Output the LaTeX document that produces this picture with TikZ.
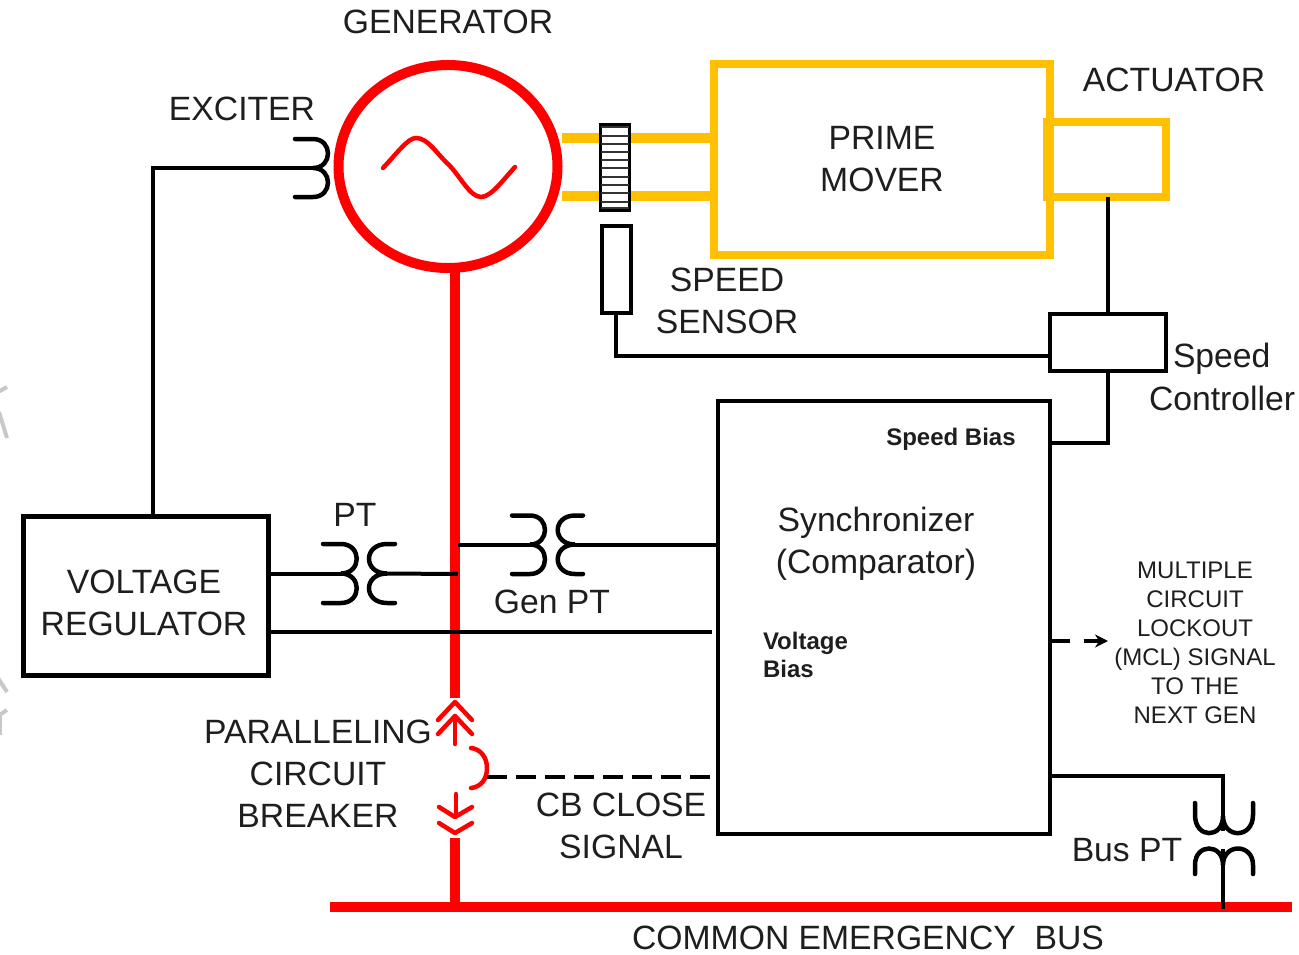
\documentclass[tikz,border=0pt]{standalone}
\usepackage{fontspec}
\setmainfont{Liberation Sans}
\usetikzlibrary{arrows.meta,shapes.geometric}
\definecolor{amber}{HTML}{FFC000}
\definecolor{ink}{HTML}{1E1E1E}
\definecolor{wmark}{HTML}{C8C8C8}
\newcommand{\coilpath}[6]{(#1,#4) -- (#2,#4) .. controls (#3,#4) and (#3,#5) .. (#2,#5) .. controls (#3,#5) and (#3,#6) .. (#2,#6) -- (#1,#6)}
\tikzset{
  every node/.style={inner sep=0pt,outer sep=0pt},
  lbl/.style={text=ink,align=center,font=\fontsize{33.7}{42}\selectfont},
  smalllbl/.style={text=ink,align=center,font=\fontsize{24}{29}\selectfont},
  boldlbl/.style={text=ink,align=left,font=\bfseries\fontsize{24}{28}\selectfont},
  blackbox/.style={draw=black,line width=4pt,rectangle},
  amberbox/.style={draw=amber,line width=8pt,rectangle},
  wire/.style={draw=black,line width=4pt},
  coil/.style={draw=black,line width=4.5pt,line cap=round},
  redbus/.style={draw=red,line width=9.5pt},
  redthin/.style={draw=red,line width=4.5pt,line cap=round,line join=round},
  shaft/.style={draw=amber,line width=9.5pt},
  wm/.style={draw=wmark,line width=4pt}
}
\begin{document}
\begin{tikzpicture}[x=1pt,y=-1pt]
\useasboundingbox (0,0) rectangle (1299,954);
% faint marks at the left edge
\draw[wm] (-2,392) -- (7,387);
\draw[wm] (-1,412) -- (7,438);
\draw[wm] (-2,678) -- (7,692);
\draw[wm] (-2,716) -- (7,710);
\draw[wm] (0,716) -- (0,735);

% named anchor points
\coordinate (shaftA) at (562,138);
\coordinate (shaftB) at (562,196);
\coordinate (redTop) at (455,268);
\coordinate (cbTop) at (455,698);
\coordinate (cbBot) at (455,838);
\coordinate (busTap) at (455,905);
\coordinate (busL) at (330,907);
\coordinate (busR) at (1292,907);
\coordinate (busPtTop) at (1223,776);
\coordinate (busPtA) at (1223,831);
\coordinate (busPtB) at (1223,849);
\coordinate (busPtEnd) at (1223,909);
\coordinate (excA) at (313,168);
\coordinate (excB) at (153,168);
\coordinate (ptL) at (341,573.5);
\coordinate (ptR) at (387,573.5);
\coordinate (ptBus) at (458,574);
\coordinate (gpBus) at (458,544.5);
\coordinate (gpL) at (530,544.5);
\coordinate (gpR) at (575,545);
\coordinate (cbArc) at (487,777);
\coordinate (mclEnd) at (1108,641);
\coordinate (ctrlIn) at (1050,356);

% shafts behind the toothed wheel
\path[shaft] (shaftA) -- (712,138);
\path[shaft] (shaftB) -- (712,196);

% boxes
\node[amberbox,minimum width=336pt,minimum height=191pt,lbl] (prime) at (882,159.5) {PRIME\\MOVER};
\node[amberbox,minimum width=119pt,minimum height=75pt] (act) at (1106.5,159.5) {};
\node[draw=black,line width=3pt,fill=white,minimum width=29pt,minimum height=86pt] (wheel) at (615,167.5) {};
\foreach \yy in {127,136,144,152,160,168,177,185,193,202,208}
  \draw[black!80,line width=1.3pt] (601,\yy) -- (629,\yy);
\node[blackbox,minimum width=29pt,minimum height=87pt] (sensor) at (616,269.5) {};
\node[blackbox,minimum width=116pt,minimum height=57pt] (ctrl) at (1108,342.5) {};
\node[blackbox,minimum width=332pt,minimum height=433pt] (sync) at (883.5,617.5) {};
\node[blackbox,line width=5pt,minimum width=245pt,minimum height=159pt] (vr) at (145.5,595.5) {};

% generator
\node[ellipse,draw=red,line width=10pt,minimum width=219pt,minimum height=203pt] (gen) at (448,166.5) {};
\draw[red,line width=4.5pt,line cap=round] (383,168) .. controls (398,152) and (408,138) .. (416,138)
  .. controls (428,138) and (436,153) .. (449,165) .. controls (460,176) and (470,197) .. (481,197)
  .. controls (491,197) and (503,180) .. (515,167);

% red main and bus
\path[redbus] (redTop) -- (cbTop);
\path[redbus] (cbBot) -- (busTap);
\path[redbus] (busL) -- (busR);

% paralleling breaker
\draw[redthin] (438,720) -- (455,702) -- (472,720);
\draw[redthin] (438,734) -- (455,716) -- (472,734);
\draw[redthin] (455,716) -- (455,744);
\draw[redthin] (471,748) .. controls (481,749) and (487,758) .. (487,768) .. controls (487,779) and (481,787) .. (471,788);
\draw[redthin] (456,794) -- (456,816);
\draw[redthin] (439,807) -- (455,817) -- (472,807);
\draw[redthin] (439,823) -- (455,833) -- (472,823);

% exciter
\draw[coil] \coilpath{295}{313}{333}{139}{168}{197};
\draw[wire] (excA) -- (excB) -- (excB |- vr.north);

% PT
\draw[coil] \coilpath{323}{341}{362}{544}{573.5}{603};
\draw[coil] \coilpath{395}{387}{363}{544}{573.5}{603};
\draw[wire] (vr.east |- ptL) -- (ptL);
\draw[wire] (ptR) -- (ptBus);

% Gen PT
\draw[coil] \coilpath{512}{530}{550}{515.5}{544.5}{574};
\draw[coil] \coilpath{583}{575}{552}{515.5}{544.5}{574};
\draw[wire] (gpBus) -- (gpL);
\draw[wire] (gpR) -- (sync.west |- gpR);

% regulator to synchronizer
\draw[wire] (vr.east |- 0,632) -- (712,632);

% speed loop
\draw[wire] (sensor.south) -- (sensor.south |- ctrlIn) -- (ctrlIn);
\draw[wire] (ctrl.north) -- (ctrl.north |- act.south);
\draw[wire] (ctrl.south) -- (1108,443) -- (sync.east |- 0,443);

% dashed signals
\draw[wire,dash pattern=on 20pt off 9pt] (cbArc) -- (sync.west |- cbArc);
\draw[wire,dash pattern=on 20pt off 14pt,-{Stealth[length=13pt,width=13pt]}] (sync.east |- mclEnd) -- (mclEnd);

% Bus PT
\draw[wire] (sync.east |- busPtTop) -- (busPtTop) -- (busPtA);
\draw[coil] (1195,803) -- (1195,815) .. controls (1195,839) and (1223,839) .. (1223,816) .. controls (1223,839) and (1253,839) .. (1253,815) -- (1253,803);
\draw[coil] (1195,874) -- (1195,865) .. controls (1195,843) and (1223,843) .. (1223,865) .. controls (1223,843) and (1253,843) .. (1253,865) -- (1253,874);
\draw[wire] (busPtB) -- (busPtEnd);

% labels
\node[lbl] (tGen) at (448,22) {GENERATOR};
\node[lbl] (tExc) at (242,109) {EXCITER};
\node[lbl] (tAct) at (1174,80) {ACTUATOR};
\node[lbl] (tVR) at (144,603) {VOLTAGE\\REGULATOR};
\node[lbl] (tSens) at (727,301) {SPEED\\SENSOR};
\node[lbl,anchor=west] (tSpd) at (1173,359) {Speed};
\node[lbl,anchor=west] (tCtl) at (1149,398) {Controller};
\node[boldlbl] (tSB) at (951,439) {Speed Bias};
\node[lbl] (tSyn) at (876,544) {Synchronizer\\(Comparator)};
\node[boldlbl,anchor=west] (tVB) at (763,655) {Voltage\\Bias};
\node[smalllbl] (tMCL) at (1195,642.5) {MULTIPLE\\CIRCUIT\\LOCKOUT\\(MCL) SIGNAL\\TO THE\\NEXT GEN};
\node[lbl] (tPT) at (355,515) {PT};
\node[lbl] (tGP) at (552,602) {Gen PT};
\node[lbl] (tPar) at (318,773.5) {PARALLELING\\CIRCUIT\\BREAKER};
\node[lbl] (tCB) at (621,826) {CB CLOSE\\SIGNAL};
\node[lbl] (tBus) at (1127,850) {Bus PT};
\node[lbl] (tCom) at (868,938) {COMMON EMERGENCY\ \ BUS};
\end{tikzpicture}
\end{document}
